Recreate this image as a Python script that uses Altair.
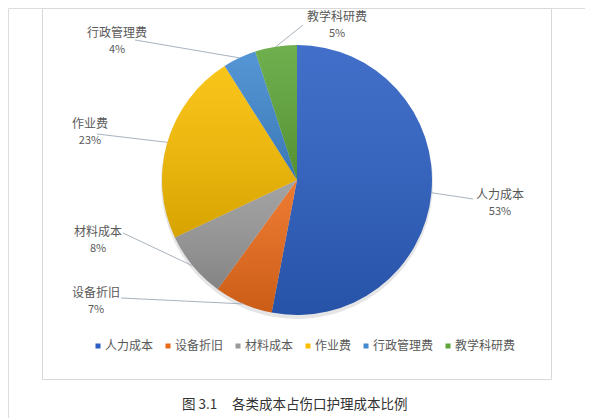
import altair as alt
import pandas as pd

# ---- data ----
categories = ["人力成本", "设备折旧", "材料成本", "作业费", "行政管理费", "教学科研费"]
values = [53, 7, 8, 23, 4, 5]
pct_labels = ["53%", "7%", "8%", "23%", "4%", "5%"]

# ---- styles / layout ----
colors = ["#2C5FC3", "#EB6B1A", "#999999", "#F9BE00", "#4189D0", "#5FA63A"]
CX, CY, R = 289, 172, 135
# label anchors relative to pie centre (annotation layout)
label_dx = [203, -201, -199, -207, -180, 40]
label_dy = [15, 113, 52, -56, -147, -163]
# leader end points relative to pie centre
lead_dx = [176, -176, -174, -200, -162, 6]
lead_dy = [19, 118, 53, -46, -140, -155]

df = pd.DataFrame({
    "cat": categories,
    "value": values,
    "pct": pct_labels,
    "order": list(range(len(categories))),
    "ldx": label_dx,
    "ldy": label_dy,
    "edx": lead_dx,
    "edy": lead_dy,
})

FONT = "Noto Sans CJK SC"
W, H = 577, 410

base = (
    alt.Chart(df)
    .transform_joinaggregate(total="sum(value)")
    .transform_window(cum="sum(value)", sort=[alt.SortField("order")], frame=[None, 0])
    .transform_calculate(
        a1="datum.cum / datum.total * 2 * PI",
        a0="(datum.cum - datum.value) / datum.total * 2 * PI",
    )
    .transform_calculate(mid="(datum.a0 + datum.a1) / 2")
    .transform_calculate(
        ex=f"{CX} + {R} * sin(datum.mid)",
        ey=f"{CY} - {R} * cos(datum.mid)",
        lx=f"{CX} + datum.edx",
        ly=f"{CY} + datum.edy",
        tx=f"{CX} + datum.ldx",
        ty=f"{CY} + datum.ldy",
        py=f"{CY} + datum.ldy + 17",
    )
)

border = alt.Chart(pd.DataFrame({"a": [0]})).mark_rect(
    fill="white", stroke="#D9D9D9", strokeWidth=1
).encode(x=alt.value(34.5), x2=alt.value(543.5), y=alt.value(0.5), y2=alt.value(371.5))

shadow = base.mark_arc(radius=R + 1, fill="#000000", opacity=0.10).encode(
    theta=alt.Theta("a0:Q", scale=None), theta2="a1:Q",
    x=alt.value(CX), y=alt.value(CY + 3),
)

pie = base.mark_arc(radius=R, stroke=None).encode(
    theta=alt.Theta("a0:Q", scale=None),
    theta2="a1:Q",
    x=alt.value(CX),
    y=alt.value(CY),
    color=alt.Color(
        "cat:N",
        scale=alt.Scale(domain=categories, range=colors),
        legend=alt.Legend(
            title=None,
            orient="none",
            legendX=84,
            legendY=332,
            direction="horizontal",
            columns=6,
            symbolType="square",
            symbolSize=25,
            symbolStrokeWidth=0,
            labelFont=FONT,
            labelFontSize=12,
            labelColor="#595959",
            labelOffset=1,
            columnPadding=8,
            padding=0,
        ),
    ),
)

shade = base.mark_arc(
    radius=R,
    fill=alt.Gradient(
        gradient="linear",
        x1=0, y1=0, x2=0, y2=1,
        stops=[
            alt.GradientStop(color="rgba(255,255,255,0.10)", offset=0),
            alt.GradientStop(color="rgba(0,0,0,0.14)", offset=1),
        ],
    ),
).encode(
    theta=alt.Theta("a0:Q", scale=None), theta2="a1:Q",
    x=alt.value(CX), y=alt.value(CY),
)

leaders = base.mark_rule(color="#A9B3BE", strokeWidth=1).encode(
    x=alt.X("ex:Q", scale=None), y=alt.Y("ey:Q", scale=None),
    x2="lx:Q", y2="ly:Q",
)

names = base.mark_text(font=FONT, fontSize=12, color="#595959").encode(
    x=alt.X("tx:Q", scale=None), y=alt.Y("ty:Q", scale=None), text="cat:N"
)
pcts = base.mark_text(font=FONT, fontSize=11, color="#595959").encode(
    x=alt.X("tx:Q", scale=None), y=alt.Y("py:Q", scale=None), text="pct:N"
)

cap_fig = alt.Chart(pd.DataFrame({"t": ["图 3.1"]})).mark_text(
    font=FONT, fontSize=13.5, color="#333333", align="left"
).encode(x=alt.value(174), y=alt.value(397), text="t:N")

cap_text = alt.Chart(pd.DataFrame({"t": ["各类成本占伤口护理成本比例"]})).mark_text(
    font=FONT, fontSize=13.5, color="#333333", align="left"
).encode(x=alt.value(224), y=alt.value(397), text="t:N")

chart = (
    alt.layer(border, shadow, pie, shade, leaders, names, pcts, cap_fig, cap_text)
    .properties(width=W, height=H, padding=0, autosize=alt.AutoSizeParams(type="none"))
    .configure_view(stroke=None)
    .configure(background="white")
)

chart.save("out.html", embed_options={"renderer": "svg", "actions": False})
